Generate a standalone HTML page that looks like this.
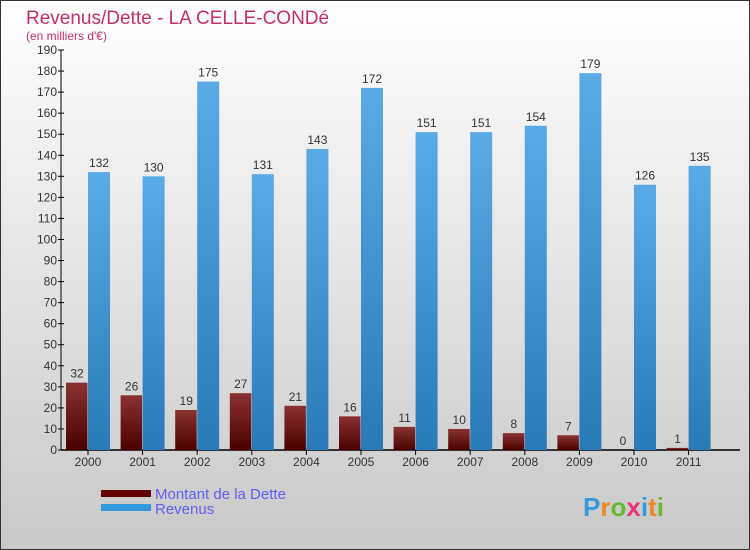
<!DOCTYPE html>
<html><head><meta charset="utf-8"><style>
body{margin:0;width:750px;height:550px;overflow:hidden;font-family:"Liberation Sans",sans-serif}
#c{position:absolute;left:0;top:0;width:748px;height:548px;border:1px solid #333;background:linear-gradient(#fff,#c8c8c8)}
</style></head><body>
<div id="c"></div>
<svg id="s" width="750" height="550" style="position:absolute;left:0;top:0">
<defs>
<linearGradient id="gd" x1="0" y1="0" x2="0" y2="1"><stop offset="0" stop-color="#8a3232"/><stop offset="1" stop-color="#4a0000"/></linearGradient>
<linearGradient id="gr" x1="0" y1="0" x2="0" y2="1"><stop offset="0" stop-color="#5aaae6"/><stop offset="1" stop-color="#2a7ab8"/></linearGradient>
</defs>
<text x="26" y="24" font-size="19" fill="#c0306a">Revenus/Dette - LA CELLE-CONDé</text>
<text x="26" y="40" font-size="12" fill="#c0306a">(en milliers d'€)</text>
<g id="g"></g>
<text x="155" y="499" font-size="15" fill="#6060f0">Montant de la Dette</text>
<text x="155" y="514" font-size="15" fill="#6060f0">Revenus</text>
<rect x="101" y="490" width="50" height="7" fill="#600000"/>
<rect x="101" y="504" width="50" height="7" fill="#3399dd"/>
<text x="583" y="516" font-size="26" font-weight="bold"><tspan fill="#3399dd">P</tspan><tspan fill="#ee8822">r</tspan><tspan fill="#66bb33">o</tspan><tspan fill="#ee3377">x</tspan><tspan fill="#3399dd">i</tspan><tspan fill="#ee8822">t</tspan><tspan fill="#66bb33">i</tspan></text>
</svg>
<script>
const years=["2000","2001","2002","2003","2004","2005","2006","2007","2008","2009","2010","2011"];
const dette=[32,26,19,27,21,16,11,10,8,7,0,1];
const revenus=[132,130,175,131,143,172,151,151,154,179,126,135];
const yTicks=[0,10,20,30,40,50,60,70,80,90,100,110,120,130,140,150,160,170,180,190];
const NS="http://www.w3.org/2000/svg";
const g=document.getElementById('g');
const y=v=>450-v*400/190;
const xc=i=>88+i*54.6;
function mk(t,a,txt){const e=document.createElementNS(NS,t);for(const k in a)e.setAttribute(k,a[k]);if(txt!=null)e.textContent=txt;g.appendChild(e);return e;}
let ax=mk('line',{x1:61,y1:50,x2:61,y2:450,stroke:'#000'});


let bx=mk('line',{x1:61,y1:450,x2:740,y2:450,stroke:'#000','stroke-width':1.5});


yTicks.forEach(v=>{
 let t=mk('line',{x1:58,y1:y(v),x2:64,y2:y(v),stroke:'#000'});
 
 
 let l=mk('text',{x:57,y:y(v)+4,'font-size':12,fill:'#333','text-anchor':'end'},v);
 
 
});
years.forEach((yr,i)=>{
 const c=xc(i);
 let t=mk('line',{x1:c,y1:450,x2:c,y2:455,stroke:'#000'});
 
 
 let l=mk('text',{x:c,y:466,'font-size':12,fill:'#333','text-anchor':'middle'},yr);
 
 
 let b1=mk('rect',{x:c-22,y:y(dette[i]),width:21.5,height:450-y(dette[i]),fill:'url(#gd)'});
 
 
 let b2=mk('rect',{x:c,y:y(revenus[i]),width:22,height:450-y(revenus[i]),fill:'url(#gr)'});
 
 
 let v1=mk('text',{x:c-11,y:y(dette[i])-5,'font-size':12,fill:'#333','text-anchor':'middle'},dette[i]);
 
 
 let v2=mk('text',{x:c+11,y:y(revenus[i])-5,'font-size':12,fill:'#333','text-anchor':'middle'},revenus[i]);
 
 
});
</script>
</body></html>
